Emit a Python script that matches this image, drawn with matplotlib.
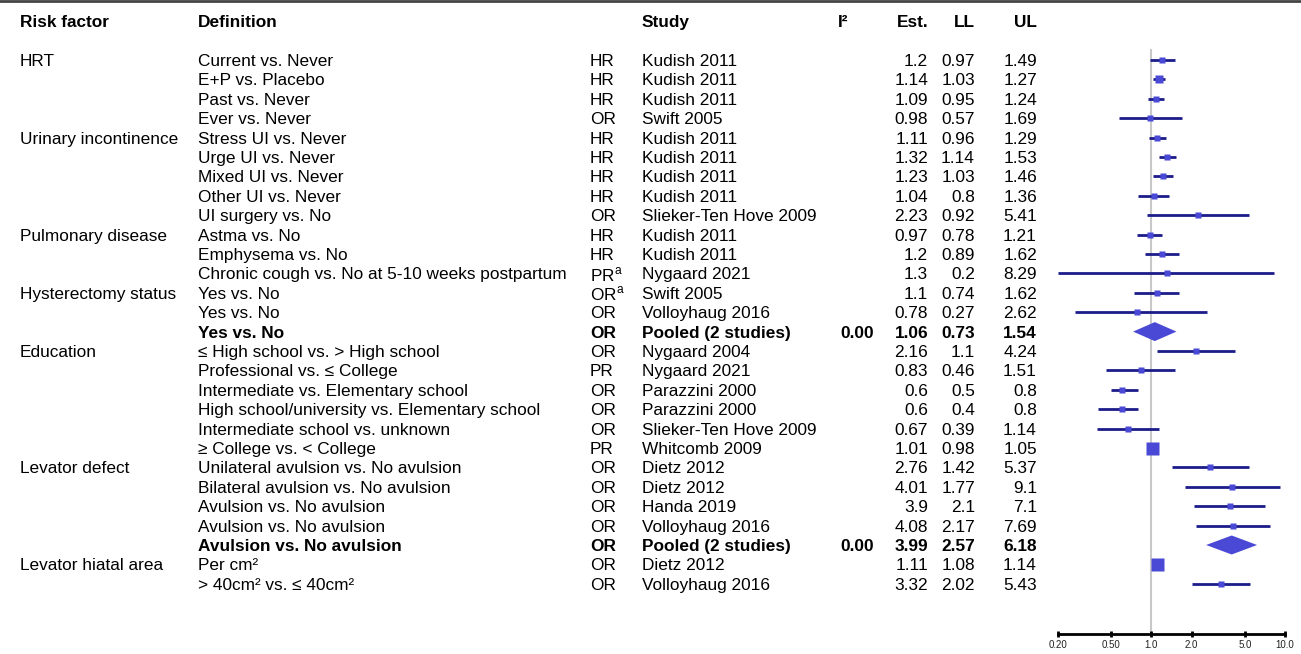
import matplotlib.pyplot as plt
from matplotlib.patches import Polygon
import numpy as np

plt.rcParams['font.family'] = ['Liberation Sans', 'DejaVu Sans']
plt.rcParams['mathtext.fontset'] = 'custom'
plt.rcParams['mathtext.rm'] = 'Liberation Sans'

# table contents, one entry per row
risk = ['HRT', '', '', '', 'Urinary incontinence', '', '', '', '',
        'Pulmonary disease', '', '', 'Hysterectomy status', '', '',
        'Education', '', '', '', '', '', 'Levator defect', '', '', '', '',
        'Levator hiatal area', '']
definition = ['Current vs. Never', 'E+P vs. Placebo', 'Past vs. Never', 'Ever vs. Never',
              'Stress UI vs. Never', 'Urge UI vs. Never', 'Mixed UI vs. Never',
              'Other UI vs. Never', 'UI surgery vs. No',
              'Astma vs. No', 'Emphysema vs. No',
              'Chronic cough vs. No at 5-10 weeks postpartum',
              'Yes vs. No', 'Yes vs. No', 'Yes vs. No',
              '≤ High school vs. > High school', 'Professional vs. ≤ College',
              'Intermediate vs. Elementary school',
              'High school/university vs. Elementary school',
              'Intermediate school vs. unknown', '≥ College vs. < College',
              'Unilateral avulsion vs. No avulsion', 'Bilateral avulsion vs. No avulsion',
              'Avulsion vs. No avulsion', 'Avulsion vs. No avulsion',
              'Avulsion vs. No avulsion',
              'Per cm²', '> 40cm² vs. ≤ 40cm²']
measure = ['HR', 'HR', 'HR', 'OR', 'HR', 'HR', 'HR', 'HR', 'OR', 'HR', 'HR',
           'PR$^{\\mathrm{a}}$', 'OR$^{\\mathrm{a}}$', 'OR', 'OR', 'OR', 'PR', 'OR', 'OR',
           'OR', 'PR', 'OR', 'OR', 'OR', 'OR', 'OR', 'OR', 'OR']
study = ['Kudish 2011', 'Kudish 2011', 'Kudish 2011', 'Swift 2005', 'Kudish 2011',
         'Kudish 2011', 'Kudish 2011', 'Kudish 2011', 'Slieker-Ten Hove 2009',
         'Kudish 2011', 'Kudish 2011', 'Nygaard 2021', 'Swift 2005', 'Volloyhaug 2016',
         'Pooled (2 studies)', 'Nygaard 2004', 'Nygaard 2021', 'Parazzini 2000',
         'Parazzini 2000', 'Slieker-Ten Hove 2009', 'Whitcomb 2009', 'Dietz 2012',
         'Dietz 2012', 'Handa 2019', 'Volloyhaug 2016', 'Pooled (2 studies)',
         'Dietz 2012', 'Volloyhaug 2016']
i2 = ['', '', '', '', '', '', '', '', '', '', '', '', '', '', '0.00',
      '', '', '', '', '', '', '', '', '', '', '0.00', '', '']
est = [1.2, 1.14, 1.09, 0.98, 1.11, 1.32, 1.23, 1.04, 2.23, 0.97, 1.2, 1.3, 1.1, 0.78,
       1.06, 2.16, 0.83, 0.6, 0.6, 0.67, 1.01, 2.76, 4.01, 3.9, 4.08, 3.99, 1.11, 3.32]
lo = [0.97, 1.03, 0.95, 0.57, 0.96, 1.14, 1.03, 0.8, 0.92, 0.78, 0.89, 0.2, 0.74, 0.27,
      0.73, 1.1, 0.46, 0.5, 0.4, 0.39, 0.98, 1.42, 1.77, 2.1, 2.17, 2.57, 1.08, 2.02]
hi = [1.49, 1.27, 1.24, 1.69, 1.29, 1.53, 1.46, 1.36, 5.41, 1.21, 1.62, 8.29, 1.62, 2.62,
      1.54, 4.24, 1.51, 0.8, 0.8, 1.14, 1.05, 5.37, 9.1, 7.1, 7.69, 6.18, 1.14, 5.43]
pooled = [False] * 14 + [True] + [False] * 10 + [True] + [False] * 2
xticks = [0.2, 0.5, 1.0, 2.0, 5.0, 10.0]
xticklabels = ['0.20', '0.50', '1.0', '2.0', '5.0', '10.0']

W, H = 1301, 654
fig = plt.figure(figsize=(W / 100, H / 100), dpi=100)

# text layer in pixel units
ax = fig.add_axes([0, 0, 1, 1])
ax.set_xlim(0, W)
ax.set_ylim(H, 0)
ax.axis('off')
ax.axhline(1, color='#444444', lw=2)

row0, step = 60, 19.4
ys = row0 + step * np.arange(len(est))
fs = 12.4
dy = 1.5

hdr = dict(fontsize=fs, fontweight='bold', va='center')
yh = row0 - 2 * step + dy
ax.text(20, yh, 'Risk factor', ha='left', **hdr)
ax.text(198, yh, 'Definition', ha='left', **hdr)
ax.text(642, yh, 'Study', ha='left', **hdr)
ax.text(838, yh, 'I²', ha='left', **hdr)
ax.text(928, yh, 'Est.', ha='right', **hdr)
ax.text(975, yh, 'LL', ha='right', **hdr)
ax.text(1037, yh, 'UL', ha='right', **hdr)

def num(v, bold):
    return f'{v:.2f}' if bold else f'{v:g}'

for i, y in enumerate(ys):
    wt = 'bold' if pooled[i] else 'normal'
    kw = dict(fontsize=fs, fontweight=wt, va='center')
    ty = y + dy
    ax.text(20, ty, risk[i], ha='left', **kw)
    ax.text(198, ty, definition[i], ha='left', **kw)
    ax.text(590, ty, measure[i], ha='left', **kw)
    ax.text(642, ty, study[i], ha='left', **kw)
    ax.text(840, ty, i2[i], ha='left', **kw)
    ax.text(928, ty, num(est[i], pooled[i]), ha='right', **kw)
    ax.text(975, ty, num(lo[i], pooled[i]), ha='right', **kw)
    ax.text(1037, ty, num(hi[i], pooled[i]), ha='right', **kw)

# forest panel: log x, same pixel rows as the table
x0, x1, ybase = 1058, 1285, 634
fa = fig.add_axes([x0 / W, (H - ybase) / H, (x1 - x0) / W, ybase / H])
fa.set_xscale('log')
fa.set_xlim(0.2, 10)
fa.set_ylim(ybase, 0)
fa.patch.set_alpha(0)
for s in ['top', 'right', 'left']:
    fa.spines[s].set_visible(False)
fa.spines['bottom'].set_linewidth(2)
fa.set_yticks([])
fa.set_xticks(xticks)
fa.set_xticklabels(xticklabels)
fa.minorticks_off()
fa.tick_params(axis='x', direction='inout', length=5, width=2, labelsize=7,
               pad=2, labelcolor='#222222')

fa.plot([1, 1], [50, ybase], color='#c8c8c8', lw=1.5, zorder=1)

box_c = '#4949d6'
line_c = '#1c1c8a'
for i, y in enumerate(ys):
    if pooled[i]:
        dh = 9.5
        fa.add_patch(Polygon([(lo[i], y), (est[i], y - dh), (hi[i], y), (est[i], y + dh)],
                             closed=True, fc=box_c, ec='none', zorder=3))
        continue
    fa.plot([lo[i], hi[i]], [y, y], color=line_c, lw=2, solid_capstyle='butt', zorder=2)
    # box size follows inverse standard error
    se = (np.log(hi[i]) - np.log(lo[i])) / 3.92
    px = np.clip(1.8 * np.sqrt(1 / se), 5.5, 13)
    fa.plot([est[i]], [y], marker='s', ms=px * 0.72, color=box_c, mec='none', zorder=3)

fig.savefig('out.png', dpi=100)
